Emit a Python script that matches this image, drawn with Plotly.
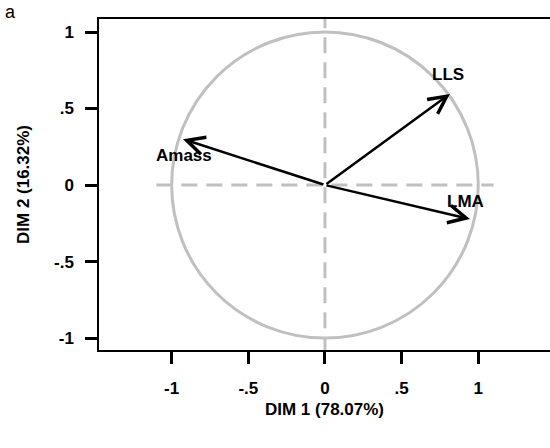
import plotly.graph_objects as go

# Variable loadings on the first two dimensions
variables = ["LLS", "LMA", "Amass"]
dim1 = [0.815, 0.946, -0.926]
dim2 = [0.595, -0.222, 0.300]

tick_vals = [-1, -0.5, 0, 0.5, 1]
tick_text = ["-1", "-.5", "0", ".5", "1"]

x_title = "DIM 1 (78.07%)"
y_title = "DIM 2 (16.32%)"
panel_label = "a"

FONT = "Arial, 'Liberation Sans', sans-serif"
GREY = "#c0c0c0"
SIZE = 17

# label offsets (pixels) relative to each arrow tip
label_shift = {"LLS": (-2, 19), "LMA": (-4, 18), "Amass": (1, -16)}

fig = go.Figure()
fig.add_trace(go.Scatter(x=[0], y=[0], mode="markers",
                         marker=dict(size=1, color="rgba(0,0,0,0)"),
                         hoverinfo="skip", showlegend=False))

shapes = [
    # correlation circle
    dict(type="circle", xref="x", yref="y", x0=-1, y0=-1, x1=1, y1=1,
         line=dict(color=GREY, width=3), layer="below"),
    # dashed reference axes
    dict(type="line", xref="x", yref="y", x0=-1.1, y0=0, x1=1.1, y1=0,
         line=dict(color=GREY, width=3, dash="16px,9px"), layer="below"),
    dict(type="line", xref="x", yref="y", x0=0, y0=-1.1, x1=0, y1=1.1,
         line=dict(color=GREY, width=3, dash="16px,9px"), layer="below"),
]

annotations = []
for name, vx, vy in zip(variables, dim1, dim2):
    annotations.append(dict(
        x=vx, y=vy, xref="x", yref="y", ax=0, ay=0, axref="x", ayref="y",
        text="", showarrow=True, arrowhead=5, arrowsize=1.4, arrowwidth=2.5,
        arrowcolor="black", standoff=0, startstandoff=0))
    dx, dy = label_shift[name]
    annotations.append(dict(
        x=vx, y=vy, xref="x", yref="y", text=f"<b>{name}</b>", showarrow=False,
        xshift=dx, yshift=dy, font=dict(family=FONT, size=SIZE, color="black")))

# panel letter in the top-left corner of the figure
annotations.append(dict(
    x=0, y=1, xref="paper", yref="paper", xanchor="center", yanchor="middle",
    xshift=-89, yshift=7, text=panel_label, showarrow=False,
    font=dict(family=FONT, size=SIZE + 1, color="black")))

axis_common = dict(
    tickvals=tick_vals, ticktext=tick_text,
    ticks="outside", ticklen=12, tickwidth=3, tickcolor="black",
    showline=True, linewidth=1.5, linecolor="black",
    showgrid=False, zeroline=False,
    tickfont=dict(family=FONT, size=SIZE, color="black", weight="bold"),
)

fig.update_layout(
    width=550, height=448,
    margin=dict(l=99, r=0, t=19, b=98),
    paper_bgcolor="white", plot_bgcolor="white",
    shapes=shapes, annotations=annotations,
    font=dict(family=FONT, size=SIZE, color="black"),
    xaxis=dict(range=[-1.474, 1.468], mirror=True, ticklabelstandoff=10,
               title=dict(text=f"<b>{x_title}</b>", standoff=6,
                          font=dict(family=FONT, size=SIZE)),
               **axis_common),
    yaxis=dict(range=[-1.078, 1.085], ticklabelstandoff=8,
               title=dict(text=f"<b>{y_title}</b>", standoff=20,
                          font=dict(family=FONT, size=SIZE)),
               **axis_common),
)

fig.write_html("out.html")
